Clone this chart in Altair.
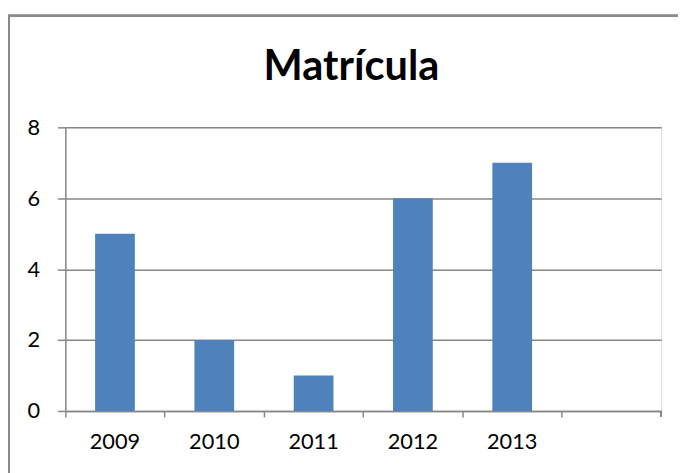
import altair as alt
import pandas as pd

title_text = "Matrícula"
years = ["2009", "2010", "2011", "2012", "2013", " "]
matricula = [5, 2, 1, 6, 7, None]
y_ticks = [0, 2, 4, 6, 8]

df = pd.DataFrame({"year": years, "value": matricula})

W, H = 603, 287
FONT = "Lato"
GRAY = "#878787"

x_enc = alt.X(
    "year:N",
    sort=years,
    scale=alt.Scale(paddingInner=0, paddingOuter=0),
    axis=alt.Axis(
        title=None,
        bandPosition=0,
        labelAngle=0,
        labelFont=FONT,
        labelFontSize=22,
        labelColor="#000000",
        labelPadding=15,
        tickSize=6,
        tickColor=GRAY,
        tickWidth=1.5,
        domainColor=GRAY,
        domainWidth=1.5,
        grid=False,
    ),
)

y_enc = alt.Y(
    "value:Q",
    scale=alt.Scale(domain=[0, 8], nice=False),
    axis=alt.Axis(
        title=None,
        values=y_ticks,
        labelFont=FONT,
        labelFontSize=22,
        labelColor="#000000",
        labelPadding=18,
        tickSize=8,
        tickColor=GRAY,
        tickWidth=1.5,
        domainColor=GRAY,
        domainWidth=1.5,
        grid=True,
        gridColor=GRAY,
        gridWidth=1.5,
    ),
)

bars = alt.Chart(df).mark_bar(
    color="#4F81BD", width=alt.RelativeBandSize(0.4)
).encode(x=x_enc, y=y_enc)

end_tick = alt.Chart(df).mark_rule(color=GRAY, strokeWidth=1.5).encode(
    x=alt.value(W), y=alt.value(H), y2=alt.value(H + 6)
)

border = alt.Chart(df).mark_rect(
    fill=None, stroke="#8a8a8a", strokeWidth=2, clip=False
).encode(
    x=alt.value(-57), x2=alt.value(W + 40),
    y=alt.value(-113), y2=alt.value(H + 80)
)

title = alt.Chart(pd.DataFrame({"t": [title_text]})).mark_text(
    font=FONT, fontSize=42, fontWeight="bold", color="#000000",
    align="center", baseline="alphabetic"
).encode(text="t:N", x=alt.value(W / 2 - 12), y=alt.value(-48))

chart = (
    alt.layer(border, bars, end_tick, title)
    .properties(
        width=W,
        height=H,
        autosize=alt.AutoSizeParams(type="none"),
        padding={"left": 58, "top": 118, "right": 17, "bottom": 60},
    )
    .configure_view(stroke=None)
    .configure(background="white")
)

chart.save("out.html", embed_options={"renderer": "svg", "actions": False})
